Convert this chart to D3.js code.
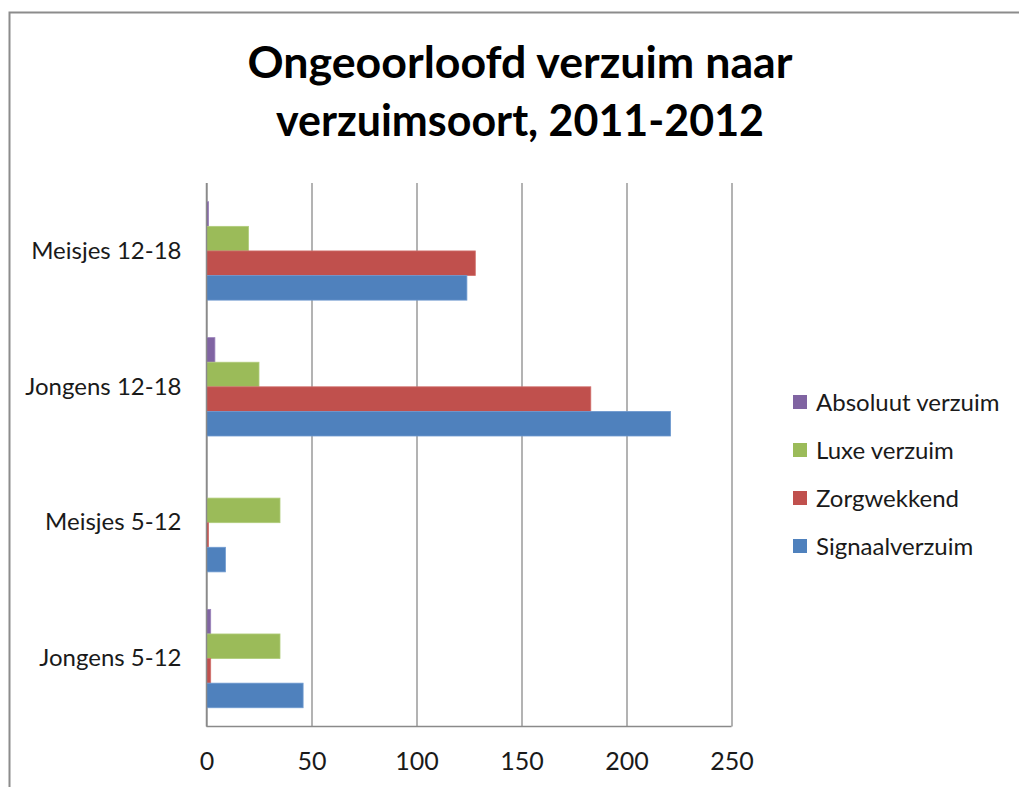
<!DOCTYPE html>
<html>
<head>
<meta charset="utf-8">
<script src="https://cdn.jsdelivr.net/npm/d3@7"></script>
<style>
  body { margin: 0; background: #fff; }
  svg { display: block; font-family: Lato, "Open Sans", sans-serif; }
</style>
</head>
<body>
<div id="chart"></div>
<script>
// data, top to bottom as drawn
const categories = ["Meisjes 12-18", "Jongens 12-18", "Meisjes 5-12", "Jongens 5-12"];
const seriesNames = ["Absoluut verzuim", "Luxe verzuim", "Zorgwekkend", "Signaalverzuim"];
const absoluut = [1, 4, 0, 2];
const luxe = [20, 25, 35, 35];
const zorgwekkend = [128, 183, 1, 2];
const signaal = [124, 221, 9, 46];
const xTicks = [0, 50, 100, 150, 200, 250];
const titleLines = ["Ongeoorloofd verzuim naar", "verzuimsoort, 2011-2012"];

const seriesValues = [absoluut, luxe, zorgwekkend, signaal];
const colors = ["#8064A2", "#9BBB59", "#C0504D", "#4F81BD"];
const borders = ["#9a82bb", "#b0cc7a", "#d06f6c", "#6f9ad0"];

const width = 1019, height = 787;
const plotLeft = 206.5, plotRight = 731.5, plotTop = 183, plotBottom = 726.5;

const svg = d3.select("#chart").append("svg")
  .attr("width", width)
  .attr("height", height);

// outer frame of the chart object
svg.append("rect")
  .attr("x", 9.5).attr("y", 12.5)
  .attr("width", 1030).attr("height", 800)
  .attr("fill", "none")
  .attr("stroke", "#8c8c8c")
  .attr("stroke-width", 2);

// title
svg.append("g").selectAll("text")
  .data(titleLines)
  .enter().append("text")
  .attr("x", 520)
  .attr("y", (d, i) => 78 + i * 58)
  .attr("text-anchor", "middle")
  .attr("font-size", 44)
  .attr("font-weight", "bold")
  .attr("fill", "#000")
  .attr("textLength", (d, i) => i === 0 ? 545 : 488)
  .attr("lengthAdjust", "spacingAndGlyphs")
  .text(d => d);

const x = d3.scaleLinear().domain([0, 250]).range([plotLeft, plotRight]);
const y = d3.scaleBand().domain(categories).range([plotTop, plotBottom])
  .paddingInner(0.276).paddingOuter(0.138);
const ys = d3.scaleBand().domain(seriesNames).range([0, y.bandwidth()]);

// vertical gridlines + tick labels
const xAxis = svg.append("g")
  .attr("transform", "translate(0," + plotBottom + ")")
  .call(d3.axisBottom(x).tickValues(xTicks).tickSize(-(plotBottom - plotTop)).tickFormat(d3.format("d")));
xAxis.select(".domain").remove();
xAxis.selectAll(".tick line").attr("stroke", "#9a9a9a").attr("stroke-width", 1.5);
xAxis.selectAll(".tick text")
  .attr("y", 43)
  .attr("dy", 0)
  .attr("font-size", 25)
  .attr("font-family", "Lato, sans-serif")
  .attr("fill", "#1a1a1a");

// bars
const groups = svg.append("g").selectAll(".group")
  .data(categories)
  .enter().append("g")
  .attr("class", "group")
  .attr("transform", d => "translate(0," + y(d) + ")");

groups.selectAll("rect")
  .data((d, ci) => seriesNames.map((s, si) => ({series: s, si: si, value: seriesValues[si][ci]})))
  .enter().append("rect")
  .filter(d => d.value > 0)
  .attr("x", x(0))
  .attr("y", d => ys(d.series))
  .attr("width", d => x(d.value) - x(0))
  .attr("height", ys.bandwidth())
  .attr("fill", d => colors[d.si])
  .attr("stroke", d => borders[d.si])
  .attr("stroke-width", 0.8);

// axis lines
svg.append("line")
  .attr("x1", plotLeft).attr("x2", plotLeft).attr("y1", plotTop).attr("y2", plotBottom)
  .attr("stroke", "#8a8a8a").attr("stroke-width", 1.5);
svg.append("line")
  .attr("x1", plotLeft).attr("x2", plotRight).attr("y1", plotBottom).attr("y2", plotBottom)
  .attr("stroke", "#8a8a8a").attr("stroke-width", 1.5);

// category labels
const yAxis = svg.append("g")
  .attr("transform", "translate(" + plotLeft + ",0)")
  .call(d3.axisLeft(y).tickSize(0).tickPadding(25));
yAxis.select(".domain").remove();
yAxis.selectAll(".tick text")
  .attr("font-size", 24)
  .attr("font-family", "Lato, sans-serif")
  .attr("fill", "#1a1a1a");

// legend
const legend = svg.append("g").selectAll(".legend")
  .data(seriesNames)
  .enter().append("g")
  .attr("class", "legend")
  .attr("transform", (d, i) => "translate(793," + (402 + i * 48) + ")");
legend.append("rect")
  .attr("x", 0).attr("y", -7)
  .attr("width", 14).attr("height", 14)
  .attr("fill", (d, i) => colors[i]);
legend.append("text")
  .attr("x", 23)
  .attr("y", 0)
  .attr("dy", "0.36em")
  .attr("font-size", 24)
  .attr("fill", "#1a1a1a")
  .text(d => d);
</script>
</body>
</html>
